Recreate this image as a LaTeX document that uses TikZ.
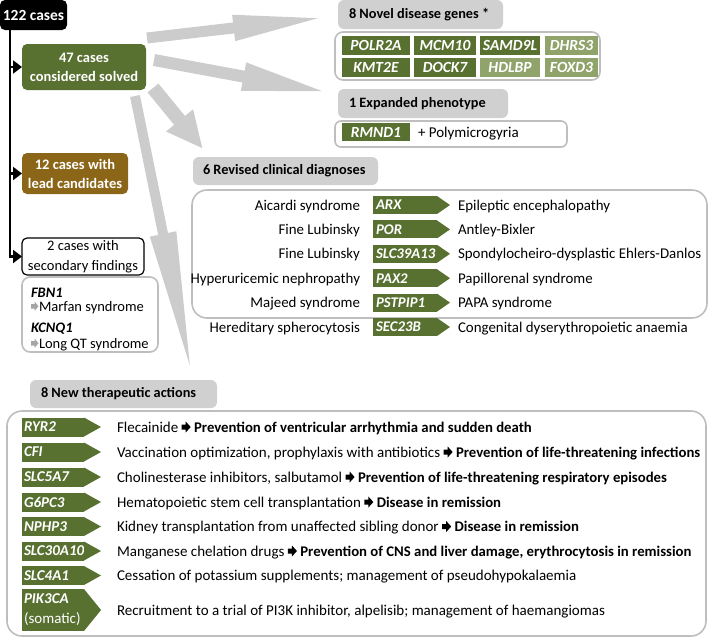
\documentclass[tikz,border=0pt]{standalone}
\usepackage{fontspec}
\setmainfont{Carlito}
\usetikzlibrary{arrows.meta,calc}
\definecolor{dg}{RGB}{88,112,48}
\definecolor{lg}{RGB}{143,163,107}
\definecolor{brn}{RGB}{139,101,24}
\definecolor{hdr}{RGB}{208,208,208}
\definecolor{brd}{RGB}{190,190,190}
\definecolor{arw}{RGB}{204,204,204}
\definecolor{sarw}{RGB}{165,165,165}
\newcommand\barr{\tikz[x=1pt,y=1pt,baseline=0.5pt]\fill[black] (0,3) -- (4,3) -- (4,0) -- (9,5.5) -- (4,11) -- (4,8) -- (0,8) -- cycle;}
\newcommand\garr{\tikz[x=1pt,y=1pt,baseline=0pt]\fill[sarw] (0,2.5) -- (3.5,2.5) -- (3.5,0) -- (7.5,4.75) -- (3.5,9.5) -- (3.5,7) -- (0,7) -- cycle;}
\newcommand\bt[1]{{\fontsize{14.75}{19}\selectfont\bfseries #1}}
\begin{document}
\begin{tikzpicture}[x=1pt,y=-1pt,
  every node/.style={inner sep=0pt, outer sep=0pt},
  maintext/.style={font=\fontsize{15}{19}\selectfont},
  revtext/.style={font=\fontsize{14.9}{19}\selectfont},
  boxlab/.style={font=\fontsize{14.5}{19}\selectfont\bfseries, text=white, align=center, rounded corners=5pt, anchor=north west},
  hdrbox/.style={fill=hdr, rounded corners=6pt, inner xsep=11pt, anchor=north west, minimum height=#1, font=\fontsize{14.3}{18}\selectfont\bfseries},
  cont/.style={draw=brd, line width=1.6pt, anchor=north west},
  topgene/.style={fill=#1, text=white, font=\fontsize{15.5}{18}\selectfont\bfseries\itshape, minimum height=19pt},
  revgene/.style={fill=dg, text=white, font=\fontsize{14.8}{18}\selectfont\bfseries\itshape, minimum height=18pt, text width=58pt, inner xsep=3pt, align=left, anchor=west},
  thgene/.style={fill=dg, text=white, font=\fontsize{15}{20}\selectfont\bfseries\itshape, minimum height=19pt, text width=58pt, inner xsep=2pt, align=left, anchor=west},
  txtl/.style={anchor=base west, maintext},
  rtxtl/.style={anchor=base west, revtext},
  rtxtr/.style={anchor=base east, revtext},
  bigarr/.style={draw=arw, line width=#1, line cap=butt},
  trunkline/.style={line width=2.5pt, -{Triangle[width=13pt,length=9pt]}}
]
\useasboundingbox (0,0) rectangle (708,638);

% big gray arrows
\coordinate (a1s) at (147,38); \coordinate (a1e) at (328,17);
\coordinate (a2s) at (154,60); \coordinate (a2e) at (332,93);
\coordinate (a3s) at (153,88); \coordinate (a3e) at (203,149);
\coordinate (a4s) at (135,96); \coordinate (a4e) at (192,376);
\draw[bigarr=11pt, -{Triangle[width=23pt,length=95pt]}] (a1s) -- (a1e);
\draw[bigarr=12pt, -{Triangle[width=25pt,length=90pt]}] (a2s) -- (a2e);
\draw[bigarr=14pt, -{Triangle[width=32pt,length=37pt]}] (a3s) -- (a3e);
\draw[bigarr=10pt, -{Triangle[width=24pt,length=145pt]}] (a4s) -- (a4e);

% left column
\node[boxlab, fill=black, minimum width=67pt, minimum height=30pt, font=\fontsize{15.5}{19}\selectfont\bfseries] (root) at (0,0) {122 cases};
\node[boxlab, fill=dg, minimum width=124pt, minimum height=46pt] (solved) at (22,44) {47 cases\\considered solved};
\node[boxlab, fill=brn, minimum width=106pt, minimum height=41pt] (lead) at (22,153) {12 cases with\\lead candidates};
\node[draw=black, line width=1.2pt, fill=white, rounded corners=5pt, minimum width=122pt, minimum height=37pt, align=center, anchor=north west, font=\fontsize{14.5}{19.5}\selectfont] (sec) at (22,238) {2 cases with\\secondary findings};
\coordinate (trunk) at ([xshift=10pt]root.south west);
\draw[trunkline] (trunk) |- (sec.west);
\draw[trunkline] (trunk |- solved.west) -- (solved.west);
\draw[trunkline] (trunk |- lead.west) -- (lead.west);

\node[cont, rounded corners=8pt, minimum width=136pt, minimum height=75pt] (secf) at (22,277) {};
\node[anchor=base west, font=\fontsize{14.5}{18}\selectfont\bfseries\itshape] (fbn) at (31,297) {FBN1};
\node[anchor=base west, font=\fontsize{14.5}{18}\selectfont] (mar) at (31,311) {\garr\kern0.5pt Marfan syndrome};
\node[anchor=base west, font=\fontsize{14.5}{18}\selectfont\bfseries\itshape] (kcn) at (31,332) {KCNQ1};
\node[anchor=base west, font=\fontsize{14.5}{18}\selectfont] (lqt) at (31,348) {\garr\kern0.5pt Long QT syndrome};

% novel genes
\node[hdrbox=29pt] (h1) at (338,0) {\makebox[143pt][l]{8 Novel disease genes *}};
\node[cont, rounded corners=8pt, minimum width=265pt, minimum height=48pt] (c1) at (335,32) {};
\node[topgene=dg, minimum width=68pt] (g1) at (376,45.5) {POLR2A};
\node[topgene=dg, minimum width=62pt] (g2) at (445,45.5) {MCM10};
\node[topgene=dg, minimum width=60pt] (g3) at (510,45.5) {SAMD9L};
\node[topgene=lg, minimum width=53pt] (g4) at (571.5,45.5) {DHRS3};
\node[topgene=dg, minimum width=68pt] (g5) at (376,67.5) {KMT2E};
\node[topgene=dg, minimum width=62pt] (g6) at (445,67.5) {DOCK7};
\node[topgene=lg, minimum width=60pt] (g7) at (510,67.5) {HDLBP};
\node[topgene=lg, minimum width=53pt] (g8) at (571.5,67.5) {FOXD3};

% expanded phenotype
\node[hdrbox=29pt] (h2) at (338,89) {\makebox[148pt][l]{1 Expanded phenotype}};
\node[cont, rounded corners=6pt, minimum width=232pt, minimum height=26pt] (c2) at (335,121) {};
\node[topgene=dg, minimum width=68pt, minimum height=18pt] (g9) at (376,132) {RMND1};
\node[txtl] (poly) at (418,137) {+ Polymicrogyria};

% revised diagnoses
\node[hdrbox=28pt, inner xsep=10pt] (h3) at (193,157) {\makebox[165pt][l]{6 Revised clinical diagnoses}};
\node[cont, rounded corners=15pt, minimum width=515pt, minimum height=128pt] (c3) at (192,190) {};
\foreach \y/\l/\g/\r [count=\i] in {
  205/Aicardi syndrome/ARX/Epileptic encephalopathy,
  229.4/Fine Lubinsky/POR/Antley-Bixler,
  253.8/Fine Lubinsky/SLC39A13/Spondylocheiro-dysplastic Ehlers-Danlos,
  278.2/Hyperuricemic nephropathy/PAX2/Papillorenal syndrome,
  302.6/Majeed syndrome/PSTPIP1/PAPA syndrome,
  327/Hereditary spherocytosis/SEC23B/Congenital dyserythropoietic anaemia} {
  \node[rtxtr] (rl\i) at (360,\y+5) {\l};
  \node[revgene] (r\i) at (373,\y) {\g};
  \node[rtxtl] (rr\i) at (458,\y+5) {\r};
}
\foreach \i in {1,...,6}
  \fill[dg] (r\i.north east) -- ($(r\i.east)+(13,0)$) -- (r\i.south east) -- cycle;

% therapeutic actions
\node[hdrbox=28pt] (h4) at (30,380) {\makebox[165pt][l]{8 New therapeutic actions}};
\node[cont, rounded corners=15pt, minimum width=699pt, minimum height=225pt] (c4) at (7,411) {};
\node[thgene] (t1) at (22,427) {RYR2};
\node[thgene] (t2) at (22,452) {CFI};
\node[thgene] (t3) at (22,477) {SLC5A7};
\node[thgene] (t4) at (22,502) {G6PC3};
\node[thgene] (t5) at (22,526.5) {NPHP3};
\node[thgene] (t6) at (22,551) {SLC30A10};
\node[thgene] (t7) at (22,575.5) {SLC4A1};
\node[thgene, minimum height=42pt] (t8) at (22,610) {PIK3CA\\\normalfont(somatic)};
\foreach \i in {1,...,8}
  \fill[dg] (t\i.north east) -- ($(t\i.east)+(17,0)$) -- (t\i.south east) -- cycle;
\node[txtl] (x1) at (117,432) {Flecainide \barr\ \bt{Prevention of ventricular arrhythmia and sudden death}};
\node[txtl] (x2) at (117,457) {Vaccination optimization, prophylaxis with antibiotics \barr\ \bt{Prevention of life-threatening infections}};
\node[txtl] (x3) at (117,482) {Cholinesterase inhibitors, salbutamol \barr\ \bt{Prevention of life-threatening respiratory episodes}};
\node[txtl] (x4) at (117,507) {Hematopoietic stem cell transplantation \barr\ \bt{Disease in remission}};
\node[txtl] (x5) at (117,531.5) {Kidney transplantation from unaffected sibling donor \barr\ \bt{Disease in remission}};
\node[txtl] (x6) at (117,556) {Manganese chelation drugs \barr\ \bt{Prevention of CNS and liver damage, erythrocytosis in remission}};
\node[txtl] (x7) at (117,580.5) {Cessation of potassium supplements; management of pseudohypokalaemia};
\node[txtl] (x8) at (117,615) {Recruitment to a trial of PI3K inhibitor, alpelisib; management of haemangiomas};
\end{tikzpicture}
\end{document}
